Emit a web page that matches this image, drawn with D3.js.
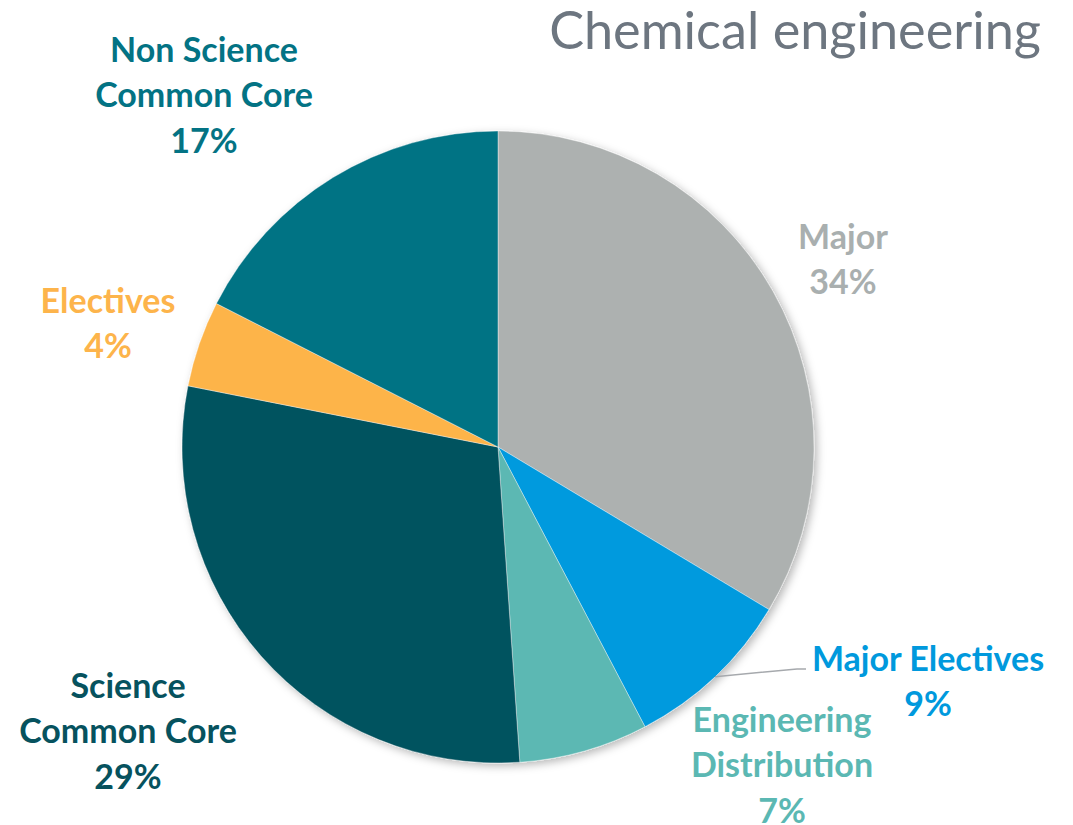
<!DOCTYPE html>
<html>
<head>
<meta charset="utf-8">
<script src="https://cdn.jsdelivr.net/npm/d3@7"></script>
<style>
  body { margin: 0; background: #fff; }
  text { font-family: Lato, "Open Sans", sans-serif; }
</style>
</head>
<body>
<script>
var width = 1073,
    height = 825

// values, clockwise from 12 o'clock
var categories = ['Major', 'Major Electives', 'Engineering Distribution', 'Science Common Core', 'Electives', 'Non Science Common Core']
var values = [33.6, 8.7, 6.6, 29.2, 4.4, 17.5]
var percentLabels = ['34%', '9%', '7%', '29%', '4%', '17%']
var labelLines = [['Major'], ['Major Electives'], ['Engineering', 'Distribution'], ['Science', 'Common Core'], ['Electives'], ['Non Science', 'Common Core']]
var colors = ['#adb1b0', '#009ade', '#5bb8b3', '#06525e', '#fdb449', '#037384']
var textColors = ['#a9afaf', '#0099dd', '#5bb8b3', '#06525e', '#fdb44b', '#037384']

var cx = 498, cy = 447, radius = 316

// label anchor (centre of the first line) per slice
var labelPos = [[843, 237], [928, 659], [782, 720], [128, 686], [108, 301], [204, 50]]
var lineH = 45.5

var data = categories.map(function(c, i){
  return {name: c, value: values[i], pct: percentLabels[i], lines: labelLines[i], color: colors[i], tcolor: textColors[i], pos: labelPos[i]}
})

var svg = d3.select('body').append('svg')
    .attr('width', width)
    .attr('height', height)

var defs = svg.append('defs')
var filter = defs.append('filter').attr('id', 'shadow')
    .attr('x', '-10%').attr('y', '-10%').attr('width', '120%').attr('height', '120%')
filter.append('feDropShadow')
    .attr('dx', 3).attr('dy', 3).attr('stdDeviation', 4)
    .attr('flood-color', '#000').attr('flood-opacity', 0.28)

var title = svg.append('text')
    .attr('x', 1041)
    .attr('y', 49)
    .attr('text-anchor', 'end')
    .style('font-size', '52px')
    .style('font-weight', 400)
    .style('fill', '#6d7680')
    .text('Chemical engineering')

// fit the title to the width it has in the picture
var tw = title.node().getComputedTextLength()
title.style('font-size', (52 * 492 / tw) + 'px')

var pie = d3.pie()
    .sort(null)
    .value(function(d){ return d.value })

var arc = d3.arc()
    .innerRadius(0)
    .outerRadius(radius)

var g = svg.append('g')
    .attr('transform', 'translate(' + cx + ',' + cy + ')')

var slices = g.append('g').attr('filter', 'url(#shadow)')

slices.selectAll('path')
  .data(pie(data))
  .enter().append('path')
    .attr('d', arc)
    .attr('fill', function(d){ return d.data.color })
    .attr('stroke', 'rgba(255,255,255,0.5)')
    .attr('stroke-width', 0.75)

// leader line for Major Electives, from the rim at the slice's middle angle
var me = pie(data)[1]
var mid = (me.startAngle + me.endAngle) / 2
var p0 = [Math.sin(mid) * radius + cx, -Math.cos(mid) * radius + cy]
svg.append('polyline')
    .attr('points', [p0, [797, 669], [806, 669]].map(function(p){ return p.join(',') }).join(' '))
    .attr('fill', 'none')
    .attr('stroke', '#a6a9ad')
    .attr('stroke-width', 1.5)

var labels = svg.selectAll('text.label')
  .data(data)
  .enter().append('text')
    .attr('class', 'label')
    .attr('text-anchor', 'middle')
    .style('font-size', '34px')
    .style('font-weight', 700)
    .style('fill', function(d){ return d.tcolor })

labels.each(function(d){
  var t = d3.select(this)
  d.lines.concat([d.pct]).forEach(function(line, i){
    t.append('tspan')
      .attr('x', d.pos[0])
      .attr('y', d.pos[1] + i * lineH)
      .attr('dy', '0.35em')
      .text(line)
  })
})
</script>
</body>
</html>
